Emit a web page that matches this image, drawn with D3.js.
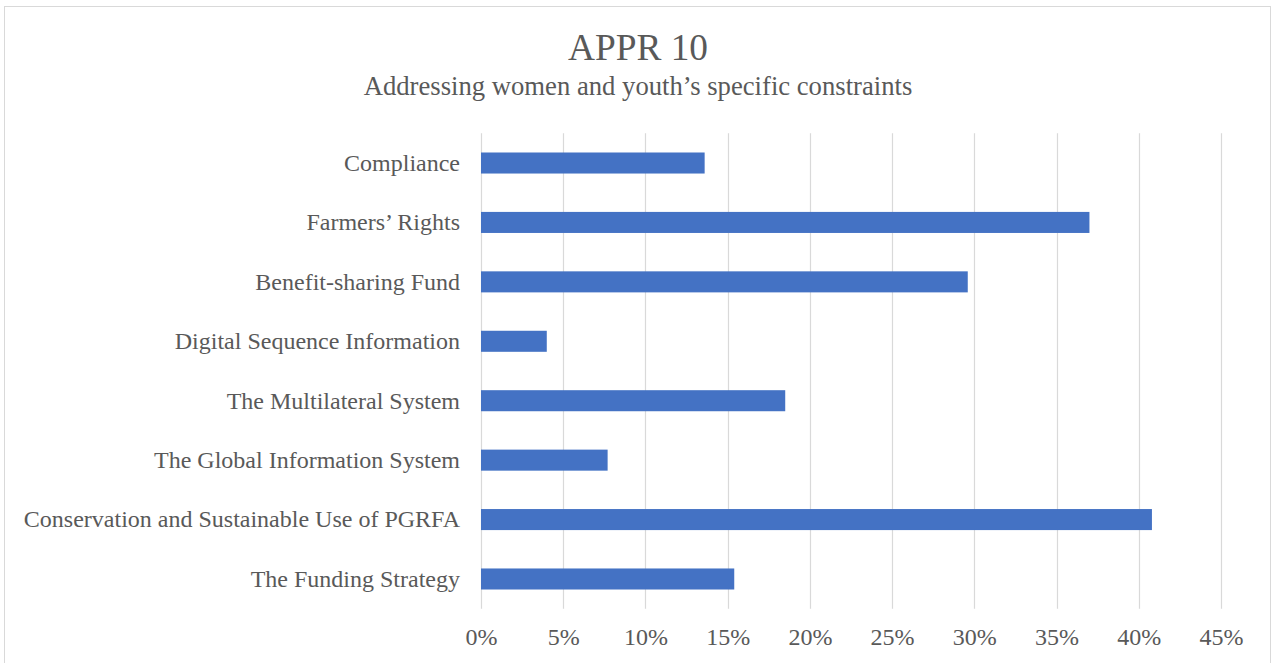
<!DOCTYPE html>
<html>
<head>
<meta charset="utf-8">
<script src="https://cdn.jsdelivr.net/npm/d3@7"></script>
<style>
  html, body { margin: 0; padding: 0; background: #fff; }
  svg { display: block; font-family: "Times New Roman", "Liberation Serif", serif; }
</style>
</head>
<body>
<svg id="chart"></svg>
<script>
const width = 1272;
const height = 663;

// chart data, top to bottom as drawn
const categories = [
    "Compliance",
    "Farmers\u2019 Rights",
    "Benefit-sharing Fund",
    "Digital Sequence Information",
    "The Multilateral System",
    "The Global Information System",
    "Conservation and Sustainable Use of PGRFA",
    "The Funding Strategy"
];
const shares = [0.136, 0.370, 0.296, 0.040, 0.185, 0.077, 0.408, 0.154];
const tickValues = [0, 0.05, 0.10, 0.15, 0.20, 0.25, 0.30, 0.35, 0.40, 0.45];

const title = "APPR 10";
const subtitle = "Addressing women and youth\u2019s specific constraints";

const textColor = "#595959";
const gridColor = "#d9d9d9";
const barColor = "#4472c4";

const margin = {top: 133.3, right: 51, bottom: 54.3, left: 481};

const svg = d3.select("#chart")
    .attr("width", width)
    .attr("height", height);

// outer frame of the chart
svg.append("rect")
    .attr("x", 4.5)
    .attr("y", 6.5)
    .attr("width", 1266)
    .attr("height", 662)
    .attr("fill", "#fff")
    .attr("stroke", gridColor)
    .attr("stroke-width", 1);

const x = d3.scaleLinear()
    .domain([0, 0.45])
    .range([margin.left, width - margin.right]);

const y = d3.scaleBand()
    .domain(categories)
    .range([margin.top, height - margin.bottom])
    .paddingInner(0.646)
    .paddingOuter(0.323);

// titles
svg.append("text")
    .attr("x", 638)
    .attr("y", 60)
    .attr("text-anchor", "middle")
    .attr("fill", textColor)
    .style("font-size", "37.33px")
    .text(title);

svg.append("text")
    .attr("x", 638)
    .attr("y", 94.5)
    .attr("text-anchor", "middle")
    .attr("fill", textColor)
    .style("font-size", "26.67px")
    .text(subtitle);

// vertical gridlines
svg.append("g")
  .selectAll("line")
  .data(tickValues)
  .join("line")
    .attr("x1", d => Math.round(x(d)) + 0.5)
    .attr("x2", d => Math.round(x(d)) + 0.5)
    .attr("y1", margin.top)
    .attr("y2", height - margin.bottom)
    .attr("stroke", gridColor)
    .attr("stroke-width", 1.2);

// bars
svg.append("g")
  .selectAll("rect")
  .data(categories)
  .join("rect")
    .attr("x", x(0))
    .attr("y", d => y(d))
    .attr("width", (d, i) => x(shares[i]) - x(0))
    .attr("height", y.bandwidth())
    .attr("fill", barColor);

// category axis (labels only)
const yAxis = svg.append("g")
    .attr("transform", `translate(${margin.left},0)`)
    .call(d3.axisLeft(y).tickSize(0).tickPadding(21));
yAxis.select(".domain").remove();
yAxis.selectAll("text")
    .attr("fill", textColor)
    .attr("dy", "0.33em")
    .style("font-size", "24px")
    .style("font-family", "\"Times New Roman\", \"Liberation Serif\", serif");

// value axis (labels only)
const xAxis = svg.append("g")
    .attr("transform", `translate(0,${height - margin.bottom})`)
    .call(d3.axisBottom(x).tickValues(tickValues).tickFormat(d3.format(".0%")).tickSize(0).tickPadding(0));
xAxis.select(".domain").remove();
xAxis.selectAll("text")
    .attr("fill", textColor)
    .attr("y", 36)
    .attr("dy", 0)
    .style("font-size", "24px")
    .style("font-family", "\"Times New Roman\", \"Liberation Serif\", serif");
</script>
</body>
</html>
